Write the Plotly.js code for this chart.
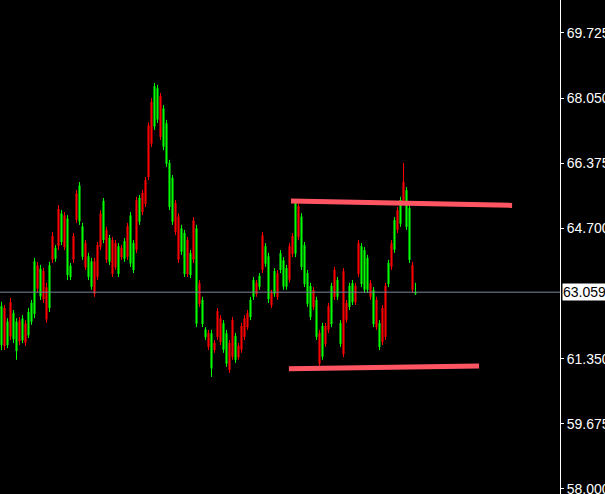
<!DOCTYPE html>
<html>
<head>
<meta charset="utf-8">
<script src="https://cdn.plot.ly/plotly-3.0.1.min.js"></script>
<style>
  html, body { margin: 0; padding: 0; background: #000; overflow: hidden; }
  #chart { width: 605px; height: 494px; }
</style>
</head>
<body>
<div id="chart"></div>
<script>
const opens = [
  61.70, 62.65, 61.70, 62.80, 61.85, 61.55, 62.33, 61.82, 62.25, 61.95,
  62.30, 62.50, 63.75, 62.95, 63.60, 63.18, 62.65, 64.50, 63.92, 65.20,
  64.35, 65.03, 63.50, 63.45, 64.50, 65.60, 64.88, 63.97, 64.32, 63.45,
  63.20, 63.85, 64.27, 65.08, 64.40, 64.65, 63.84, 64.40, 64.32, 63.53,
  64.20, 63.92, 64.76, 63.80, 63.63, 65.42, 64.87, 65.61, 65.94, 67.35,
  67.95, 67.32, 67.50, 68.10, 66.80, 66.36, 65.25, 64.87, 65.35, 65.00,
  64.10, 63.53, 64.40, 63.50, 64.90, 62.25, 63.29, 62.24, 61.90, 62.01,
  61.10, 61.76, 62.57, 62.39, 61.58, 61.22, 61.75, 62.34, 61.32, 61.68,
  62.19, 62.39, 62.52, 62.42, 62.94, 63.30, 63.20, 64.52, 63.79, 62.88,
  63.05, 63.02, 63.55, 63.63, 63.20, 63.20, 64.24, 64.50, 64.05, 65.27,
  63.71, 63.27, 62.76, 62.42, 63.11, 61.91, 62.01, 61.40, 62.19, 62.70,
  62.24, 63.63, 62.94, 61.73, 63.60, 62.78, 62.68, 62.80, 63.22, 64.32,
  63.27, 63.12, 63.12, 63.29, 62.24, 62.86, 61.65, 62.65, 63.22, 63.27,
  64.32, 64.15, 65.17, 64.82, 65.90, 64.74, 63.89, 63.76, 63.02
];
const highs = [
  62.81, 62.73, 62.39, 62.91, 62.60, 62.39, 62.42, 62.47, 62.34, 62.65,
  62.86, 63.94, 63.84, 63.76, 63.68, 63.30, 63.84, 64.61, 64.27, 65.30,
  65.17, 65.12, 65.04, 63.81, 64.58, 65.69, 65.89, 64.84, 64.40, 64.07,
  63.94, 63.94, 64.35, 65.17, 65.48, 64.74, 64.53, 64.48, 64.40, 64.32,
  64.27, 64.45, 64.84, 65.12, 64.40, 65.51, 65.56, 65.69, 66.02, 67.43,
  68.05, 68.44, 68.39, 68.18, 67.87, 67.49, 66.46, 66.07, 65.43, 65.09,
  64.79, 64.66, 64.48, 64.14, 64.99, 64.79, 63.37, 62.94, 62.16, 62.09,
  62.09, 61.83, 62.65, 62.47, 62.34, 62.09, 61.83, 62.42, 62.01, 61.75,
  62.27, 62.47, 62.60, 62.94, 63.45, 63.37, 63.55, 64.61, 64.32, 64.07,
  63.12, 63.68, 63.63, 64.14, 63.96, 63.76, 64.32, 64.58, 65.43, 65.35,
  65.09, 64.35, 63.63, 63.30, 63.19, 62.94, 62.09, 62.27, 62.27, 62.78,
  63.30, 63.71, 63.45, 62.34, 63.68, 62.86, 63.30, 63.37, 63.30, 64.40,
  64.32, 64.22, 64.02, 63.37, 63.19, 62.94, 62.34, 62.73, 63.30, 63.89,
  64.40, 64.99, 65.25, 65.51, 66.38, 65.76, 65.30, 63.84, 63.30
];
const lows = [
  61.57, 61.57, 61.62, 61.83, 61.75, 61.32, 61.70, 61.75, 61.68, 61.88,
  62.22, 62.39, 63.06, 62.86, 62.78, 62.27, 62.55, 63.81, 63.84, 64.14,
  64.27, 64.14, 63.37, 63.37, 63.81, 64.84, 64.79, 63.89, 63.63, 63.37,
  63.12, 62.94, 63.37, 64.14, 64.32, 63.81, 63.76, 63.45, 63.63, 63.45,
  63.89, 63.84, 63.89, 63.71, 63.55, 64.07, 64.79, 65.04, 65.25, 65.94,
  66.79, 67.23, 67.41, 66.97, 66.71, 66.28, 65.17, 64.79, 64.53, 63.81,
  64.02, 63.45, 63.45, 63.42, 63.81, 62.16, 62.68, 62.16, 61.83, 61.57,
  60.88, 61.50, 61.83, 61.70, 61.50, 61.14, 60.98, 61.32, 61.24, 61.32,
  61.50, 61.83, 62.09, 62.34, 62.86, 62.94, 63.12, 63.55, 63.71, 62.78,
  62.65, 62.94, 62.86, 63.55, 63.12, 63.12, 63.30, 63.96, 63.96, 64.40,
  63.63, 63.19, 62.68, 62.34, 62.60, 61.83, 61.14, 61.32, 61.65, 62.01,
  62.16, 62.86, 62.86, 61.65, 61.39, 62.27, 62.60, 62.73, 62.73, 63.45,
  63.19, 63.04, 63.04, 62.86, 62.16, 62.09, 61.57, 61.70, 61.83, 63.19,
  63.63, 64.07, 64.58, 64.74, 65.30, 64.66, 63.81, 63.04, 62.99
];
const closes = [
  62.70, 61.68, 62.30, 61.92, 62.52, 62.30, 61.80, 62.38, 61.76, 62.55,
  62.78, 63.85, 63.15, 63.66, 62.88, 62.36, 63.75, 63.90, 64.20, 64.25,
  65.08, 64.22, 64.95, 63.74, 63.90, 64.92, 65.80, 64.75, 63.70, 63.98,
  63.85, 63.02, 63.45, 64.22, 65.40, 63.90, 64.45, 63.53, 63.70, 64.24,
  63.96, 64.37, 63.97, 65.03, 64.32, 64.15, 65.48, 65.12, 65.33, 66.02,
  66.88, 68.35, 68.30, 67.05, 67.78, 67.40, 66.38, 66.00, 64.61, 63.90,
  64.70, 64.58, 63.53, 64.06, 63.90, 64.70, 62.76, 62.86, 62.10, 61.65,
  62.00, 61.57, 61.91, 61.78, 62.26, 62.00, 61.06, 61.40, 61.93, 61.39,
  61.58, 61.91, 62.16, 62.86, 63.37, 63.01, 63.48, 63.63, 64.24, 63.98,
  62.72, 63.60, 62.94, 64.06, 63.88, 63.68, 63.38, 64.04, 65.35, 64.48,
  65.00, 64.27, 63.55, 63.22, 62.68, 62.86, 61.22, 62.19, 61.73, 62.09,
  63.22, 62.94, 63.37, 62.26, 61.47, 62.35, 63.22, 63.29, 62.80, 63.53,
  64.24, 64.14, 63.94, 62.94, 63.11, 62.16, 62.26, 61.78, 61.91, 63.81,
  63.71, 64.91, 64.66, 65.43, 65.38, 65.68, 65.22, 63.12, 63.06
];

// Price scale tick labels (right axis)
const tickValues = [58.000, 59.675, 61.350, 64.700, 66.375, 68.050, 69.725];
const tickLabels = ["58.000", "59.675", "61.350", "64.700", "66.375", "68.050", "69.725"];

// Current bid price
const currentPrice = 63.059;

// Drawn channel (trend) lines: [start, end] in bar index / price
const upperTrendX = [96.5, 170.2];
const upperTrendY = [65.40, 65.29];
const lowerTrendX = [95.8, 159.2];
const lowerTrendY = [61.09, 61.16];

const barIndex = opens.map((_, i) => i);

const traces = [
  {
    type: 'candlestick',
    x: barIndex,
    open: opens, high: highs, low: lows, close: closes,
    increasing: { line: { color: '#00ff00', width: 1 }, fillcolor: '#00ff00' },
    decreasing: { line: { color: '#ff0000', width: 1 }, fillcolor: '#ff0000' },
    whiskerwidth: 0,
    hoverinfo: 'skip',
    showlegend: false
  },
  {
    type: 'scatter', mode: 'lines',
    x: upperTrendX, y: upperTrendY,
    line: { color: '#ff5563', width: 5 },
    hoverinfo: 'skip', showlegend: false
  },
  {
    type: 'scatter', mode: 'lines',
    x: lowerTrendX, y: lowerTrendY,
    line: { color: '#ff5563', width: 5 },
    hoverinfo: 'skip', showlegend: false
  }
];

const layout = {
  width: 605, height: 494,
  margin: { l: 0, r: 45, t: 0, b: 0, pad: 0 },
  paper_bgcolor: '#000000',
  plot_bgcolor: '#000000',
  showlegend: false,
  boxgap: 0.5,
  xaxis: {
    range: [-0.5, 186.17],
    visible: false,
    showgrid: false,
    zeroline: false,
    rangeslider: { visible: false },
    fixedrange: true
  },
  yaxis: {
    side: 'right',
    range: [57.87, 70.571],
    tickmode: 'array',
    tickvals: tickValues,
    ticktext: tickLabels,
    ticks: 'outside',
    ticklen: 3,
    tickwidth: 1,
    tickcolor: '#ffffff',
    ticklabeloverflow: 'allow',
    showline: true,
    linecolor: '#ffffff',
    linewidth: 1,
    showgrid: false,
    zeroline: false,
    tickfont: { family: 'Liberation Sans, Arial, sans-serif', size: 14, color: '#ffffff' },
    fixedrange: true
  },
  shapes: [
    {
      type: 'line', xref: 'paper', yref: 'y',
      x0: 0, x1: 1, y0: currentPrice, y1: currentPrice,
      line: { color: '#778899', width: 1 },
      layer: 'above'
    }
  ],
  annotations: [
    {
      xref: 'paper', yref: 'y', x: 1, y: currentPrice,
      xanchor: 'left', yanchor: 'middle', xshift: 2,
      text: currentPrice.toFixed(3),
      showarrow: false,
      bgcolor: '#ffffff',
      borderpad: 0,
      font: { family: 'Liberation Sans, Arial, sans-serif', size: 14, color: '#000000' }
    }
  ]
};

Plotly.newPlot('chart', traces, layout, { displayModeBar: false, staticPlot: true });
</script>
</body>
</html>
